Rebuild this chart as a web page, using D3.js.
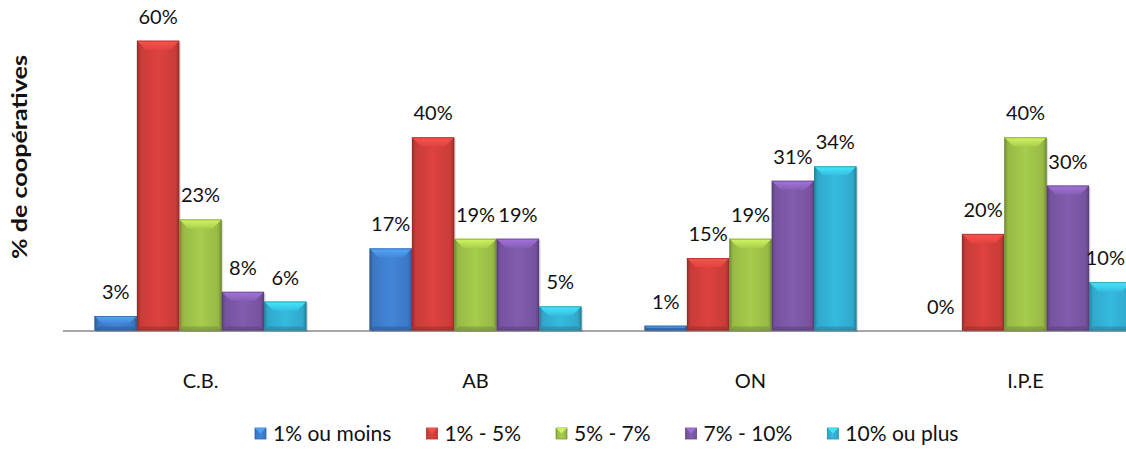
<!DOCTYPE html>
<html>
<head>
<meta charset="utf-8">
<script src="https://cdn.jsdelivr.net/npm/d3@7"></script>
<style>
  html, body { margin: 0; padding: 0; background: #ffffff; }
  svg { display: block; }
</style>
</head>
<body>
<svg id="chart" width="1126" height="449"></svg>
<script>
// ---- data ----
const categories = ["C.B.", "AB", "ON", "I.P.E"];
const seriesNames = ["1% ou moins", "1% - 5%", "5% - 7%", "7% - 10%", "10% ou plus"];
const seriesColors = ["#3f7fcf", "#d43f3b", "#9fc449", "#7d58a8", "#33b2d6"];
const s1ouMoins = [3, 17, 1, 0];
const s1a5 = [60, 40, 15, 20];
const s5a7 = [23, 19, 19, 40];
const s7a10 = [8, 19, 31, 30];
const s10ouPlus = [6, 5, 34, 10];
const seriesValues = [s1ouMoins, s1a5, s5a7, s7a10, s10ouPlus];
const yTitle = "% de coopératives";

// ---- layout ----
const svg = d3.select("#chart");
const W = 1126, H = 449;
const baseY = 330.5;
const plotLeft = 63, plotRight = 1163;
const FONT = "Lato, 'Open Sans', sans-serif";

const x0 = d3.scaleBand().domain(categories).range([plotLeft, plotRight])
  .paddingInner(63 / 275).paddingOuter(31.5 / 275);
const x1 = d3.scaleBand().domain(seriesNames).range([0, x0.bandwidth()]).padding(0);
const y = d3.scaleLinear().domain([0, 60]).range([baseY, baseY - 60 * 4.83]);

const defs = svg.append("defs");
seriesColors.forEach((c, i) => {
  const base = d3.color(c);
  const g = defs.append("linearGradient").attr("id", "grad" + i)
    .attr("x1", "0%").attr("x2", "100%").attr("y1", "0%").attr("y2", "0%");
  g.append("stop").attr("offset", "0%").attr("stop-color", base.darker(0.9));
  g.append("stop").attr("offset", "9%").attr("stop-color", base.darker(0.15));
  g.append("stop").attr("offset", "50%").attr("stop-color", base.brighter(0.12));
  g.append("stop").attr("offset", "91%").attr("stop-color", base.darker(0.15));
  g.append("stop").attr("offset", "100%").attr("stop-color", base.darker(0.9));
  const gt = defs.append("linearGradient").attr("id", "top" + i)
    .attr("x1", "0%").attr("x2", "0%").attr("y1", "0%").attr("y2", "100%");
  gt.append("stop").attr("offset", "0%").attr("stop-color", base.brighter(0.9));
  gt.append("stop").attr("offset", "100%").attr("stop-color", base.brighter(0.2));
});

const clip = defs.append("clipPath").attr("id", "clipPlot");
clip.append("rect").attr("x", 0).attr("y", 0).attr("width", W).attr("height", H);

// axis baseline
svg.append("line")
  .attr("x1", plotLeft).attr("x2", W).attr("y1", baseY + 0.5).attr("y2", baseY + 0.5)
  .attr("stroke", "#a6a6a6").attr("stroke-width", 2);

// bars
const flat = [];
categories.forEach((cat, ci) => {
  seriesNames.forEach((s, si) => {
    flat.push({ cat, s, si, v: seriesValues[si][ci] });
  });
});

const gBars = svg.append("g").attr("clip-path", "url(#clipPlot)");
const bar = gBars.selectAll("g.bar").data(flat).enter().append("g").attr("class", "bar");

bar.filter(d => d.v > 0).each(function (d) {
  const g = d3.select(this);
  const bx = x0(d.cat) + x1(d.s);
  const bw = x1.bandwidth();
  const top = y(d.v);
  const h = baseY - top;
  g.append("rect").attr("x", bx + 1.5).attr("y", top + 1.5).attr("width", bw).attr("height", h)
    .attr("fill", "rgba(0,0,0,0.12)");
  g.append("rect").attr("x", bx).attr("y", top).attr("width", bw).attr("height", h)
    .attr("fill", `url(#grad${d.si})`);
  const bev = Math.min(9, h / 2);
  g.append("path")
    .attr("d", `M${bx},${top} L${bx + bw},${top} L${bx + bw - bev},${top + bev} L${bx + bev},${top + bev} Z`)
    .attr("fill", `url(#top${d.si})`).attr("opacity", 0.85);
  const b2 = Math.min(4, bev);
  g.append("path")
    .attr("d", `M${bx},${top + h} L${bx + bw},${top + h} L${bx + bw - b2},${top + h - b2} L${bx + b2},${top + h - b2} Z`)
    .attr("fill", d3.color(seriesColors[d.si]).darker(0.8)).attr("opacity", 0.6);
  g.append("rect").attr("x", bx + 0.5).attr("y", top + 0.5).attr("width", bw - 1).attr("height", h - 1)
    .attr("fill", "none").attr("stroke", d3.color(seriesColors[d.si]).darker(1.0)).attr("stroke-width", 1).attr("opacity", 0.6);
});

// data labels
svg.append("g").selectAll("text").data(flat).enter().append("text")
  .attr("x", d => x0(d.cat) + x1(d.s) + x1.bandwidth() / 2)
  .attr("y", d => y(d.v) - 17)
  .attr("text-anchor", "middle")
  .attr("font-family", FONT).attr("font-size", 20).attr("fill", "#111")
  .text(d => d.v + "%")
  .each(function () {
    const t = d3.select(this);
    const w = this.getComputedTextLength();
    const cx = +t.attr("x");
    if (cx + w / 2 > W - 1) t.attr("x", W - 1 - w / 2);
  });

// category labels
svg.append("g").selectAll("text").data(categories).enter().append("text")
  .attr("x", d => x0(d) + x0.bandwidth() / 2)
  .attr("y", 388)
  .attr("text-anchor", "middle")
  .attr("font-family", FONT).attr("font-size", 20).attr("fill", "#111")
  .text(d => d);

// y title
svg.append("text")
  .attr("transform", "translate(27,157) rotate(-90)")
  .attr("text-anchor", "middle")
  .attr("font-family", FONT).attr("font-size", 21).attr("font-weight", "bold").attr("fill", "#111")
  .attr("textLength", 204).attr("lengthAdjust", "spacingAndGlyphs")
  .text(yTitle);

// legend
const leg = svg.append("g");
let lx = 255;
seriesNames.forEach((s, i) => {
  const g = leg.append("g");
  g.append("rect").attr("x", lx).attr("y", 428).attr("width", 11).attr("height", 11)
    .attr("fill", `url(#grad${i})`).attr("stroke", d3.color(seriesColors[i]).darker(0.6)).attr("stroke-width", 0.8);
  g.append("path").attr("d", `M${lx},${428} L${lx + 11},${428} L${lx + 5.5},${433.5} Z`)
    .attr("fill", d3.color(seriesColors[i]).brighter(0.8)).attr("opacity", 0.8);
  const t = g.append("text").attr("x", lx + 18).attr("y", 441)
    .attr("font-family", FONT).attr("font-size", 21).attr("fill", "#111").text(s);
  lx += 18 + t.node().getComputedTextLength() + 35;
});
</script>
</body>
</html>
